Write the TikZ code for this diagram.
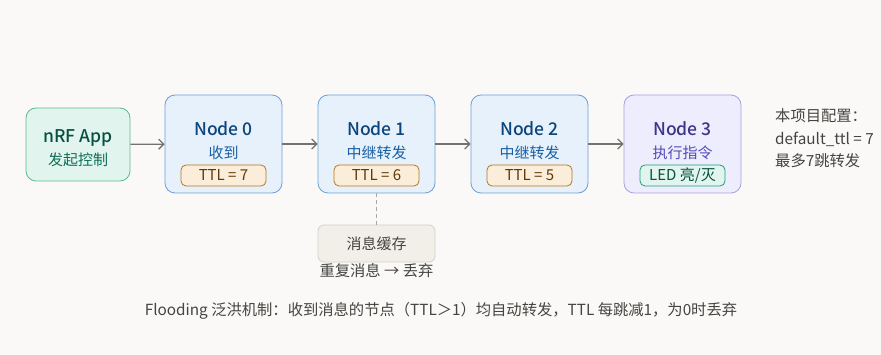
\documentclass[tikz,border=0pt]{standalone}
\usepackage{fontspec}
\setmainfont{Noto Sans CJK SC}[BoldFont={Noto Sans CJK SC Medium}]
\usetikzlibrary{arrows.meta}
\definecolor{bgc}{HTML}{FAF9F7}
\definecolor{gfill}{HTML}{E1F5EE}
\definecolor{gdraw}{HTML}{5DB89A}
\definecolor{gtitle}{HTML}{085041}
\definecolor{gsub}{HTML}{0F6E56}
\definecolor{bfill}{HTML}{E6F1FB}
\definecolor{bdraw}{HTML}{6A9FD8}
\definecolor{btitle}{HTML}{0C447C}
\definecolor{bsub}{HTML}{185FA5}
\definecolor{pfill}{HTML}{EEEDFE}
\definecolor{pdraw}{HTML}{A89FE0}
\definecolor{ptitle}{HTML}{3C3489}
\definecolor{psub}{HTML}{534AB7}
\definecolor{ofill}{HTML}{FAEEDA}
\definecolor{odraw}{HTML}{BA7517}
\definecolor{otext}{HTML}{633806}
\definecolor{ledfill}{HTML}{E1F5EE}
\definecolor{leddraw}{HTML}{1D9E75}
\definecolor{cfill}{HTML}{F1EFE8}
\definecolor{cdraw}{HTML}{D3D1C7}
\definecolor{txt}{HTML}{444441}
\definecolor{arrc}{HTML}{73726C}
\tikzset{
  box/.style={rounded corners=10pt, line width=0.8pt, inner sep=0pt},
  pill/.style={rounded corners=5pt, line width=0.8pt, inner sep=0pt, minimum width=85pt, minimum height=21pt, font=\fontsize{15}{17}\selectfont},
  title/.style={font=\bfseries\fontsize{17.5}{20}\selectfont, inner sep=0pt},
  sub/.style={font=\fontsize{15}{17}\selectfont, inner sep=0pt},
  arr/.style={draw=arrc, line width=1.3pt, -{Straight Barb[length=5pt,width=10pt]}},
  plain/.style={font=\fontsize{15.3}{18}\selectfont, text=txt, inner sep=0pt}
}
\begin{document}
\begin{tikzpicture}[x=1pt,y=-1pt]
\fill[bgc] (0,0) rectangle (881,355);
\useasboundingbox (0,0) rectangle (881,355);
% main boxes
\node[box, draw=gdraw, fill=gfill, minimum width=104pt, minimum height=73pt] (app) at (78,144.5) {};
\node[box, draw=bdraw, fill=bfill, minimum width=117pt, minimum height=98pt] (n0) at (223.5,144) {};
\node[box, draw=bdraw, fill=bfill, minimum width=117pt, minimum height=98pt] (n1) at (376.5,144) {};
\node[box, draw=bdraw, fill=bfill, minimum width=117pt, minimum height=98pt] (n2) at (529.5,144) {};
\node[box, draw=pdraw, fill=pfill, minimum width=117pt, minimum height=98pt] (n3) at (682.5,144) {};
% app texts
\node[title, text=gtitle] (appt) at (78,138) {nRF App};
\node[sub, text=gsub] (apps) at (78,160) {发起控制};
% node texts
\node[title, text=btitle] (n0t) at (223.5,129) {Node 0};
\node[sub, text=bsub] (n0s) at (223.5,152.5) {收到};
\node[pill, draw=odraw, fill=ofill, text=otext] (ttl0) at (223.5,175.5) {TTL = 7};
\node[title, text=btitle] (n1t) at (376.5,129) {Node 1};
\node[sub, text=bsub] (n1s) at (376.5,152.5) {中继转发};
\node[pill, draw=odraw, fill=ofill, text=otext] (ttl1) at (376.5,175.5) {TTL = 6};
\node[title, text=btitle] (n2t) at (529.5,129) {Node 2};
\node[sub, text=bsub] (n2s) at (529.5,152.5) {中继转发};
\node[pill, draw=odraw, fill=ofill, text=otext] (ttl2) at (529.5,175.5) {TTL = 5};
\node[title, text=ptitle] (n3t) at (682.5,129) {Node 3};
\node[sub, text=psub] (n3s) at (682.5,152.5) {执行指令};
\node[pill, draw=leddraw, fill=ledfill, text=gtitle] (led) at (682.5,175.5) {LED 亮/灭};
% arrows
\draw[arr] (app) -- (n0);
\draw[arr] (n0) -- (n1);
\draw[arr] (n1) -- (n2);
\draw[arr] (n2) -- (n3);
% cache
\node[rounded corners=6pt, draw=cdraw, fill=cfill, line width=0.8pt, minimum width=117pt, minimum height=37pt, font=\fontsize{15}{17}\selectfont, text=txt, inner sep=0pt] (cache) at (376.5,243.5) {消息缓存};
\draw[draw=cdraw!80!black, line width=1.2pt, dashed, dash pattern=on 4pt off 3pt] (n1.south) -- (cache.north);
\node[plain] (drop) at (376.5,271) {重复消息 → 丢弃};
% config
\node[plain, anchor=west] (cfg1) at (775,116) {本项目配置：};
\node[plain, anchor=west] (cfg2) at (775,139) {default\_ttl = 7};
\node[plain, anchor=west] (cfg3) at (775,161) {最多7跳转发};
% footer
\node[plain] (foot) at (441,311) {Flooding 泛洪机制：收到消息的节点（TTL＞1）均自动转发，TTL 每跳减1，为0时丢弃};
\end{tikzpicture}
\end{document}
